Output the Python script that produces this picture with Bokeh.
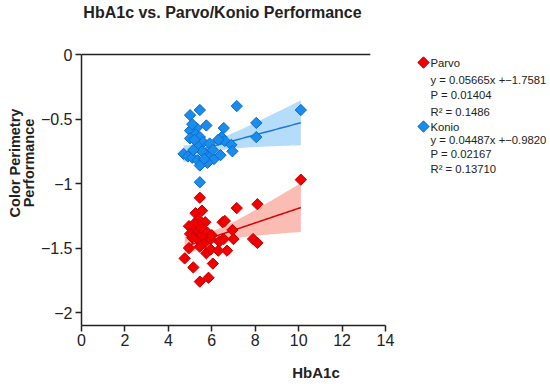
import numpy as np
from bokeh.plotting import figure
from bokeh.models import Range1d, FixedTicker, Label, CustomJSTickFormatter
from bokeh.embed import file_html
from bokeh.resources import INLINE

# ---------------- data ----------------
konio_x = [5.0, 5.45, 7.15, 10.1, 5.75, 5.3, 5.0, 6.55, 8.05, 8.05, 5.25, 5.45, 5.0, 5.6,
           5.9, 5.35, 6.45, 6.6, 6.9, 6.95, 4.7, 4.9, 5.1, 5.35, 5.7, 5.95, 6.1, 6.4, 5.8,
           5.45, 5.45, 5.2, 5.55, 6.05, 5.15, 5.65, 6.3, 5.1]
konio_y = [-0.47, -0.43, -0.40, -0.43, -0.55, -0.57, -0.59, -0.57, -0.53, -0.64, -0.62, -0.64,
           -0.65, -0.68, -0.69, -0.71, -0.64, -0.67, -0.70, -0.75, -0.77, -0.79, -0.80, -0.82,
           -0.77, -0.79, -0.81, -0.78, -0.84, -0.86, -0.99, -0.66, -0.75, -0.74, -0.74, -0.81,
           -0.66, -0.54]
parvo_x = [5.45, 5.25, 5.55, 7.15, 8.1, 5.4, 5.7, 4.95, 5.25, 5.0, 5.65, 6.5, 6.6, 6.95, 7.0,
           7.9, 8.1, 5.35, 5.65, 5.95, 6.35, 6.55, 4.95, 5.45, 5.75, 5.95, 6.3, 6.7, 4.75,
           5.15, 6.05, 5.85, 5.45, 10.1, 5.1, 5.55, 5.8, 5.2, 6.0, 5.5]
parvo_y = [-1.11, -1.23, -1.21, -1.19, -1.16, -1.28, -1.30, -1.33, -1.36, -1.39, -1.37, -1.30,
           -1.29, -1.36, -1.43, -1.43, -1.46, -1.43, -1.46, -1.43, -1.45, -1.43, -1.50, -1.49,
           -1.54, -1.51, -1.52, -1.52, -1.58, -1.65, -1.62, -1.73, -1.76, -0.97, -1.42, -1.40,
           -1.38, -1.31, -1.40, -1.34]

parvo_fit = (0.05665, -1.7581)
konio_fit = (0.04487, -0.9820)

series_names = ["Parvo", "Konio"]
parvo_stats = ["y = 0.05665x +\u22121.7581", "P = 0.01404", "R\u00b2 = 0.1486"]
konio_stats = ["y = 0.04487x +\u22120.9820", "P = 0.02167", "R\u00b2 = 0.13710"]

x_ticks = [0, 2, 4, 6, 8, 10, 12, 14]
y_ticks = [0, -0.5, -1, -1.5, -2]

title_text = "HbA1c vs. Parvo/Konio Performance"
x_label = "HbA1c"
y_label = "Color Perimetry\nPerformance"

# ---------------- styles / layout ----------------
FONT = "Liberation Sans"
INK = "#222222"
RED, RED_EDGE, RED_LINE, RED_BAND = "#f20000", "#c40000", "#d80000", "#fbbcb3"
BLUE, BLUE_EDGE, BLUE_LINE, BLUE_BAND = "#1a8cec", "#0b6ccc", "#1a78d8", "#b5dcf9"

W, H = 550, 384
FRAME_L, FRAME_B = 81, 325          # pixel position of x=0 and y=-2.1
Y0_PX = 54                           # pixel row of y=0
px_per_x = (385 - 81) / 14.0
px_per_y = (325 - 54) / 2.1
x_end = (W - FRAME_L) / px_per_x
y_start = -2.1
y_end = Y0_PX / px_per_y

p = figure(width=W, height=H, output_backend="svg", toolbar_location=None,
           x_range=Range1d(0, x_end), y_range=Range1d(y_start, y_end),
           min_border_left=FRAME_L, min_border_right=0, min_border_top=0,
           min_border_bottom=H - FRAME_B)
p.outline_line_color = None
p.grid.visible = False
p.background_fill_color = "white"
p.border_fill_color = "white"

for ax, ticks, bounds in ((p.xaxis[0], x_ticks, (0, 14)), (p.yaxis[0], y_ticks, (y_start, 0))):
    ax.ticker = FixedTicker(ticks=ticks)
    ax.bounds = bounds
    ax.axis_line_color = INK
    ax.axis_line_width = 1.5
    ax.major_tick_line_color = INK
    ax.major_tick_line_width = 1.5
    ax.major_tick_out = 6
    ax.major_tick_in = 0
    ax.minor_tick_line_color = None
    ax.major_label_text_font = FONT
    ax.major_label_text_font_size = "16px"
    ax.major_label_text_color = INK
    ax.axis_label_text_font = FONT
    ax.axis_label_text_font_style = "bold"
    ax.axis_label_text_color = INK
    ax.formatter = CustomJSTickFormatter(code="return tick < 0 ? '\u2212' + Math.abs(tick) : String(tick);")

p.xaxis[0].major_label_standoff = 2
p.xaxis[0].axis_label = x_label
p.xaxis[0].axis_label_text_font_size = "15px"
p.xaxis[0].axis_label_standoff = 15
p.yaxis[0].major_label_standoff = 3
p.yaxis[0].axis_label = y_label
p.yaxis[0].axis_label_text_font_size = "14.5px"
p.yaxis[0].axis_label_standoff = 1
p.yaxis[0].axis_label_text_line_height = 0.85

# zero reference line at top
p.line([0, 13.3], [0, 0], line_color=INK, line_width=1.5)


def band(xs, ys, fit):
    xs = np.asarray(xs, float)
    ys = np.asarray(ys, float)
    m, b = fit
    n = len(xs)
    resid = ys - (m * xs + b)
    s = np.sqrt(np.sum(resid ** 2) / (n - 2))
    xbar = xs.mean()
    sxx = np.sum((xs - xbar) ** 2)
    xg = np.linspace(xs.min(), xs.max(), 60)
    se = s * np.sqrt(1.0 / n + (xg - xbar) ** 2 / sxx)
    t = 2.026
    yhat = m * xg + b
    return xg, yhat, yhat - t * se, yhat + t * se


for xs, ys, fit, lc, bc in ((konio_x, konio_y, konio_fit, BLUE_LINE, BLUE_BAND),
                            (parvo_x, parvo_y, parvo_fit, RED_LINE, RED_BAND)):
    xg, yhat, lo, hi = band(xs, ys, fit)
    p.varea(x=xg, y1=lo, y2=hi, fill_color=bc, fill_alpha=1.0)
    p.line(xg, yhat, line_color=lc, line_width=1.5)

for xs, ys, fill, edge in ((konio_x, konio_y, BLUE, BLUE_EDGE), (parvo_x, parvo_y, RED, RED_EDGE)):
    p.scatter(xs, ys, marker="square", angle=np.pi / 4, size=8,
              fill_color=fill, line_color=edge, line_width=1)


def px_to_x(px):
    return (px - FRAME_L) / px_per_x


def px_to_y(py):
    return -(py - Y0_PX) / px_per_y


def lab(text, px, py, size, bold=False, align="left"):
    p.add_layout(Label(x=px_to_x(px), y=px_to_y(py), text=text,
                       text_font=FONT, text_font_size=size,
                       text_font_style="bold" if bold else "normal",
                       text_align=align, text_baseline="middle", text_color=INK))


lab(title_text, 222, 12, "16px", bold=True, align="center")

# legend
legend_rows = [(series_names[0], parvo_stats, RED, RED_EDGE, [62, 79, 94.5, 111]),
               (series_names[1], konio_stats, BLUE, BLUE_EDGE, [126, 139.5, 153.5, 168])]
for name, stats, fill, edge, ys_px in legend_rows:
    p.scatter([px_to_x(423)], [px_to_y(ys_px[0])], marker="square", angle=np.pi / 4,
              size=8, fill_color=fill, line_color=edge, line_width=1)
    for t, py in zip([name] + stats, ys_px):
        lab(t, 430, py, "11.3px")

open("out.html", "w").write(file_html(p, INLINE))
